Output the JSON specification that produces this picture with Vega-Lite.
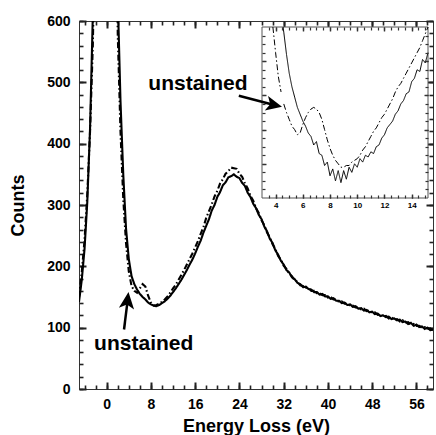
{
  "$schema": "https://vega.github.io/schema/vega-lite/v6.json",
  "width": 354,
  "height": 368,
  "autosize": "none",
  "padding": {"left": 79, "top": 21, "right": 3, "bottom": 46},
  "background": "white",
  "config": {
    "view": {"stroke": "#333", "strokeWidth": 1},
    "axis": {
      "grid": false,
      "domain": false,
      "labelFont": "Liberation Sans",
      "titleFont": "Liberation Sans",
      "labelFontWeight": "bold",
      "titleFontWeight": "bold",
      "labelColor": "black",
      "titleColor": "black",
      "labelFlush": false,
      "labelOverlap": false,
      "labelBound": false
    }
  },
  "datasets": {
    "main": [
      {"e": -5, "s": 142, "u": 150}, {"e": -4.5, "s": 178, "u": 190}, {"e": -4, "s": 228, "u": 243},
      {"e": -3.5, "s": 305, "u": 318}, {"e": -3, "s": 425, "u": 420}, {"e": -2.5, "s": 610, "u": 560},
      {"e": -2, "s": 950, "u": 800}, {"e": -1.5, "s": 1600, "u": 1400}, {"e": -1, "s": 3000, "u": 2800},
      {"e": 0, "s": 8000, "u": 8000}, {"e": 1, "s": 3000, "u": 3000}, {"e": 1.5, "s": 1300, "u": 1100},
      {"e": 2, "s": 640, "u": 580}, {"e": 2.5, "s": 470, "u": 420}, {"e": 3, "s": 350, "u": 310},
      {"e": 3.5, "s": 262, "u": 238}, {"e": 4, "s": 212, "u": 192}, {"e": 4.5, "s": 184, "u": 168},
      {"e": 5, "s": 171, "u": 160}, {"e": 5.5, "s": 162, "u": 157}, {"e": 6, "s": 155, "u": 164},
      {"e": 6.5, "s": 150, "u": 171}, {"e": 7, "s": 146, "u": 167}, {"e": 7.5, "s": 141, "u": 152},
      {"e": 8, "s": 138, "u": 141}, {"e": 8.5, "s": 136, "u": 136}, {"e": 9, "s": 135, "u": 137},
      {"e": 9.5, "s": 137, "u": 139}, {"e": 10, "s": 140, "u": 142}, {"e": 10.5, "s": 143, "u": 146},
      {"e": 11, "s": 147, "u": 151}, {"e": 11.5, "s": 152, "u": 157}, {"e": 12, "s": 158, "u": 164},
      {"e": 12.5, "s": 164, "u": 170}, {"e": 13, "s": 171, "u": 178}, {"e": 13.5, "s": 178, "u": 186},
      {"e": 14, "s": 186, "u": 194}, {"e": 14.5, "s": 194, "u": 203}, {"e": 15, "s": 203, "u": 212},
      {"e": 15.5, "s": 211, "u": 221}, {"e": 16, "s": 221, "u": 231}, {"e": 16.5, "s": 232, "u": 241},
      {"e": 17, "s": 242, "u": 253}, {"e": 17.5, "s": 255, "u": 264}, {"e": 18, "s": 266, "u": 279},
      {"e": 18.5, "s": 277, "u": 290}, {"e": 19, "s": 291, "u": 301}, {"e": 19.5, "s": 300, "u": 314},
      {"e": 20, "s": 313, "u": 323}, {"e": 20.5, "s": 321, "u": 335}, {"e": 21, "s": 332, "u": 342},
      {"e": 21.5, "s": 337, "u": 351}, {"e": 22, "s": 345, "u": 355}, {"e": 22.5, "s": 347, "u": 361},
      {"e": 23, "s": 350, "u": 360}, {"e": 23.5, "s": 346, "u": 359}, {"e": 24, "s": 344, "u": 351},
      {"e": 24.5, "s": 336, "u": 346}, {"e": 25, "s": 331, "u": 335}, {"e": 25.5, "s": 320, "u": 327},
      {"e": 26, "s": 313, "u": 315}, {"e": 26.5, "s": 302, "u": 307}, {"e": 27, "s": 295, "u": 295},
      {"e": 27.5, "s": 284, "u": 287}, {"e": 28, "s": 277, "u": 275}, {"e": 28.5, "s": 265, "u": 267},
      {"e": 29, "s": 257, "u": 255}, {"e": 29.5, "s": 245, "u": 247}, {"e": 30, "s": 238, "u": 236},
      {"e": 30.5, "s": 226, "u": 228}, {"e": 31, "s": 219, "u": 217}, {"e": 31.5, "s": 209, "u": 211},
      {"e": 32, "s": 203, "u": 201}, {"e": 32.5, "s": 194, "u": 196}, {"e": 33, "s": 190, "u": 188},
      {"e": 33.5, "s": 182, "u": 184}, {"e": 34, "s": 179, "u": 177}, {"e": 34.5, "s": 173, "u": 175},
      {"e": 35, "s": 171, "u": 169}, {"e": 35.5, "s": 166, "u": 168}, {"e": 36, "s": 167, "u": 165},
      {"e": 36.5, "s": 163, "u": 165}, {"e": 37, "s": 162, "u": 160}, {"e": 37.5, "s": 158, "u": 160},
      {"e": 38, "s": 158, "u": 156}, {"e": 38.5, "s": 154, "u": 156}, {"e": 39, "s": 155, "u": 153},
      {"e": 39.5, "s": 151, "u": 153}, {"e": 40, "s": 151, "u": 149}, {"e": 40.5, "s": 147, "u": 150},
      {"e": 41, "s": 148, "u": 146}, {"e": 41.5, "s": 144, "u": 146}, {"e": 42, "s": 144, "u": 142},
      {"e": 42.5, "s": 140, "u": 143}, {"e": 43, "s": 141, "u": 139}, {"e": 43.5, "s": 137, "u": 139},
      {"e": 44, "s": 138, "u": 136}, {"e": 44.5, "s": 134, "u": 136}, {"e": 45, "s": 135, "u": 133},
      {"e": 45.5, "s": 131, "u": 133}, {"e": 46, "s": 132, "u": 130}, {"e": 46.5, "s": 128, "u": 131},
      {"e": 47, "s": 129, "u": 127}, {"e": 47.5, "s": 125, "u": 128}, {"e": 48, "s": 126, "u": 124},
      {"e": 48.5, "s": 122, "u": 125}, {"e": 49, "s": 123, "u": 121}, {"e": 49.5, "s": 119, "u": 122},
      {"e": 50, "s": 120, "u": 118}, {"e": 50.5, "s": 117, "u": 119}, {"e": 51, "s": 118, "u": 115},
      {"e": 51.5, "s": 114, "u": 117}, {"e": 52, "s": 115, "u": 113}, {"e": 52.5, "s": 112, "u": 114},
      {"e": 53, "s": 113, "u": 110}, {"e": 53.5, "s": 109, "u": 112}, {"e": 54, "s": 110, "u": 108},
      {"e": 54.5, "s": 106, "u": 109}, {"e": 55, "s": 108, "u": 105}, {"e": 55.5, "s": 103, "u": 106},
      {"e": 56, "s": 105, "u": 103}, {"e": 56.5, "s": 101, "u": 103}, {"e": 57, "s": 102, "u": 100},
      {"e": 57.5, "s": 98, "u": 101}, {"e": 58, "s": 100, "u": 98}, {"e": 58.5, "s": 96, "u": 99},
      {"e": 59, "s": 97, "u": 95}
    ],
    "inset": [
      {"e": 3.8, "u": 221}, {"e": 4.0, "u": 205}, {"e": 4.2, "u": 191}, {"e": 4.4, "u": 182},
      {"e": 4.55, "s": 220}, {"e": 4.6, "s": 217, "u": 175}, {"e": 4.8, "s": 204, "u": 170},
      {"e": 5.0, "s": 193, "u": 166}, {"e": 5.2, "s": 185, "u": 162}, {"e": 5.4, "s": 179, "u": 160},
      {"e": 5.6, "s": 173, "u": 157}, {"e": 5.8, "s": 169, "u": 158}, {"e": 6.0, "s": 165, "u": 163},
      {"e": 6.2, "s": 162, "u": 167}, {"e": 6.4, "s": 158, "u": 170}, {"e": 6.6, "s": 156, "u": 172},
      {"e": 6.8, "s": 151, "u": 173}, {"e": 7.0, "s": 153, "u": 172}, {"e": 7.2, "s": 146, "u": 170},
      {"e": 7.4, "s": 145, "u": 166}, {"e": 7.6, "s": 139, "u": 160}, {"e": 7.8, "s": 141, "u": 154},
      {"e": 8.0, "s": 133, "u": 149}, {"e": 8.2, "s": 137, "u": 145}, {"e": 8.4, "s": 130, "u": 142},
      {"e": 8.6, "s": 136, "u": 140}, {"e": 8.8, "s": 129, "u": 138}, {"e": 9.0, "s": 136, "u": 138},
      {"e": 9.2, "s": 131, "u": 139}, {"e": 9.4, "s": 138, "u": 139}, {"e": 9.6, "s": 135, "u": 141},
      {"e": 9.8, "s": 140, "u": 142}, {"e": 10.0, "s": 138, "u": 143}, {"e": 10.2, "s": 143, "u": 145},
      {"e": 10.4, "s": 141, "u": 148}, {"e": 10.6, "s": 145, "u": 150}, {"e": 10.8, "s": 144, "u": 153},
      {"e": 11.0, "s": 147, "u": 156}, {"e": 11.2, "s": 146, "u": 159}, {"e": 11.4, "s": 150, "u": 161},
      {"e": 11.6, "s": 151, "u": 164}, {"e": 11.8, "s": 155, "u": 167}, {"e": 12.0, "s": 157, "u": 169},
      {"e": 12.2, "s": 161, "u": 172}, {"e": 12.4, "s": 163, "u": 175}, {"e": 12.6, "s": 165, "u": 178},
      {"e": 12.8, "s": 169, "u": 182}, {"e": 13.0, "s": 171, "u": 185}, {"e": 13.2, "s": 175, "u": 187},
      {"e": 13.4, "s": 177, "u": 190}, {"e": 13.6, "s": 181, "u": 193}, {"e": 13.8, "s": 182, "u": 196},
      {"e": 14.0, "s": 188, "u": 199}, {"e": 14.2, "s": 190, "u": 202}, {"e": 14.4, "s": 195, "u": 205},
      {"e": 14.6, "s": 194, "u": 208}, {"e": 14.8, "s": 201, "u": 212}, {"e": 15.0, "s": 199, "u": 216},
      {"e": 15.2, "s": 205, "u": 220}
    ],
    "box": [{"e1": 3, "e2": 15.2, "c1": 120, "c2": 220}],
    "dummyMain": [{"a": 0, "b": 0}],
    "dummyInset": [{"a": 8, "b": 150}],
    "notes": [
      {"e": 16.5, "c": 487, "t": "unstained"},
      {"e": 6.7, "c": 64, "t": "unstained"}
    ],
    "shafts": [
      {"e": 23.9, "c": 478, "e2": 30.3, "c2": 463},
      {"e": 3.14, "c": 97, "e2": 3.8, "c2": 145}
    ],
    "headUpper": [{"e": 31.7, "c": 460}],
    "headLower": [{"e": 3.95, "c": 158}]
  },
  "resolve": {
    "scale": {"x": "independent", "y": "independent"},
    "axis": {"x": "independent", "y": "independent"}
  },
  "layer": [
    {
      "data": {"name": "main"},
      "transform": [{"fold": ["s", "u"], "as": ["series", "counts"]}],
      "mark": {"type": "line", "clip": true, "color": "black", "strokeWidth": 2.1},
      "encoding": {
        "x": {"field": "e", "type": "quantitative", "scale": {"domain": [-5, 59], "nice": false, "zero": false},
          "axis": {"orient": "bottom", "values": [0, 8, 16, 24, 32, 40, 48, 56], "ticks": false, "labelPadding": 8, "labelFontSize": 14, "title": "Energy Loss (eV)", "titleFontSize": 18, "titlePadding": 6}},
        "y": {"field": "counts", "type": "quantitative", "scale": {"domain": [0, 600], "nice": false, "zero": false},
          "axis": {"orient": "left", "values": [0, 100, 200, 300, 400, 500, 600], "ticks": false, "labelPadding": 9, "labelFontSize": 14, "title": "Counts", "titleFontSize": 18, "titlePadding": 19}},
        "strokeDash": {"field": "series", "type": "nominal", "scale": {"domain": ["s", "u"], "range": [[1, 0], [6, 2.5, 1.5, 2.5]]}, "legend": null}
      }
    },
    {
      "data": {"name": "dummyMain"},
      "mark": {"type": "point", "opacity": 0},
      "encoding": {
        "x": {"field": "a", "type": "quantitative", "scale": {"domain": [-5, 59], "nice": false, "zero": false},
          "axis": {"orient": "bottom", "offset": -7, "ticks": true, "tickColor": "#222", "tickWidth": 2, "tickSize": 7, "values": [0, 8, 16, 24, 32, 40, 48, 56], "labels": false, "title": null}},
        "y": {"field": "b", "type": "quantitative", "scale": {"domain": [0, 600], "nice": false, "zero": false},
          "axis": {"orient": "left", "offset": -7, "ticks": true, "tickColor": "#222", "tickWidth": 2, "tickSize": 7, "values": [0, 100, 200, 300, 400, 500, 600], "labels": false, "title": null}}
      }
    },
    {
      "data": {"name": "dummyMain"},
      "mark": {"type": "point", "opacity": 0},
      "encoding": {
        "x": {"field": "a", "type": "quantitative", "scale": {"domain": [-5, 59], "nice": false, "zero": false},
          "axis": {"orient": "bottom", "offset": -4, "ticks": true, "tickColor": "#222", "tickWidth": 1.6, "tickSize": 4, "values": [-4, -2, 0, 2, 4, 6, 8, 10, 12, 14, 16, 18, 20, 22, 24, 26, 28, 30, 32, 34, 36, 38, 40, 42, 44, 46, 48, 50, 52, 54, 56, 58], "labels": false, "title": null}},
        "y": {"field": "b", "type": "quantitative", "scale": {"domain": [0, 600], "nice": false, "zero": false},
          "axis": {"orient": "left", "offset": -4, "ticks": true, "tickColor": "#222", "tickWidth": 1.6, "tickSize": 4, "values": [0, 20, 40, 60, 80, 100, 120, 140, 160, 180, 200, 220, 240, 260, 280, 300, 320, 340, 360, 380, 400, 420, 440, 460, 480, 500, 520, 540, 560, 580, 600], "labels": false, "title": null}}
      }
    },
    {
      "data": {"name": "dummyMain"},
      "mark": {"type": "point", "opacity": 0},
      "encoding": {
        "x": {"field": "a", "type": "quantitative", "scale": {"domain": [-5, 59], "nice": false, "zero": false},
          "axis": {"orient": "top", "offset": -7, "ticks": true, "tickColor": "#222", "tickWidth": 2, "tickSize": 7, "values": [0, 8, 16, 24, 32, 40, 48, 56], "labels": false, "title": null}},
        "y": {"field": "b", "type": "quantitative", "scale": {"domain": [0, 600], "nice": false, "zero": false},
          "axis": {"orient": "right", "offset": -7, "ticks": true, "tickColor": "#222", "tickWidth": 2, "tickSize": 7, "values": [0, 100, 200, 300, 400, 500, 600], "labels": false, "title": null}}
      }
    },
    {
      "data": {"name": "dummyMain"},
      "mark": {"type": "point", "opacity": 0},
      "encoding": {
        "x": {"field": "a", "type": "quantitative", "scale": {"domain": [-5, 59], "nice": false, "zero": false},
          "axis": {"orient": "top", "offset": -4, "ticks": true, "tickColor": "#222", "tickWidth": 1.6, "tickSize": 4, "values": [-4, -2, 0, 2, 4, 6, 8, 10, 12, 14, 16, 18, 20, 22, 24, 26, 28, 30, 32, 34, 36, 38, 40, 42, 44, 46, 48, 50, 52, 54, 56, 58], "labels": false, "title": null}},
        "y": {"field": "b", "type": "quantitative", "scale": {"domain": [0, 600], "nice": false, "zero": false},
          "axis": {"orient": "right", "offset": -4, "ticks": true, "tickColor": "#222", "tickWidth": 1.6, "tickSize": 4, "values": [0, 20, 40, 60, 80, 100, 120, 140, 160, 180, 200, 220, 240, 260, 280, 300, 320, 340, 360, 380, 400, 420, 440, 460, 480, 500, 520, 540, 560, 580, 600], "labels": false, "title": null}}
      }
    },
    {
      "data": {"name": "box"},
      "mark": {"type": "rect", "fill": "white", "stroke": "#555", "strokeWidth": 1},
      "encoding": {
        "x": {"field": "e1", "type": "quantitative", "scale": {"domain": [3, 15.2], "nice": false, "zero": false, "range": [183, 349]},
          "axis": {"orient": "bottom", "offset": -191, "values": [4, 6, 8, 10, 12, 14], "ticks": false, "labelPadding": 3, "labelFontSize": 8, "title": null, "zindex": 1}},
        "x2": {"field": "e2"},
        "y": {"field": "c1", "type": "quantitative", "scale": {"domain": [120, 220], "nice": false, "zero": false, "range": [177, 6]}, "axis": null},
        "y2": {"field": "c2"}
      }
    },
    {
      "data": {"name": "dummyInset"},
      "mark": {"type": "point", "opacity": 0},
      "encoding": {
        "x": {"field": "a", "type": "quantitative", "scale": {"domain": [3, 15.2], "nice": false, "zero": false, "range": [183, 349]},
          "axis": {"orient": "bottom", "offset": -195, "ticks": true, "tickColor": "#333", "tickWidth": 1.4, "tickSize": 4, "values": [4, 6, 8, 10, 12, 14], "labels": false, "title": null, "zindex": 1}},
        "y": {"field": "b", "type": "quantitative", "scale": {"domain": [120, 220], "nice": false, "zero": false, "range": [177, 6]},
          "axis": {"orient": "left", "offset": -187, "ticks": true, "tickColor": "#333", "tickWidth": 1.4, "tickSize": 4, "values": [140, 160, 180, 200], "labels": false, "title": null, "zindex": 1}}
      }
    },
    {
      "data": {"name": "dummyInset"},
      "mark": {"type": "point", "opacity": 0},
      "encoding": {
        "x": {"field": "a", "type": "quantitative", "scale": {"domain": [3, 15.2], "nice": false, "zero": false, "range": [183, 349]},
          "axis": {"orient": "bottom", "offset": -194, "ticks": true, "tickColor": "#333", "tickWidth": 1.2, "tickSize": 3, "values": [3.5, 4, 4.5, 5, 5.5, 6, 6.5, 7, 7.5, 8, 8.5, 9, 9.5, 10, 10.5, 11, 11.5, 12, 12.5, 13, 13.5, 14, 14.5, 15], "labels": false, "title": null, "zindex": 1}},
        "y": {"field": "b", "type": "quantitative", "scale": {"domain": [120, 220], "nice": false, "zero": false, "range": [177, 6]},
          "axis": {"orient": "left", "offset": -186, "ticks": true, "tickColor": "#333", "tickWidth": 1.2, "tickSize": 3, "values": [125, 130, 135, 140, 145, 150, 155, 160, 165, 170, 175, 180, 185, 190, 195, 200, 205, 210, 215], "labels": false, "title": null, "zindex": 1}}
      }
    },
    {
      "data": {"name": "dummyInset"},
      "mark": {"type": "point", "opacity": 0},
      "encoding": {
        "x": {"field": "a", "type": "quantitative", "scale": {"domain": [3, 15.2], "nice": false, "zero": false, "range": [183, 349]},
          "axis": {"orient": "top", "offset": -10, "ticks": true, "tickColor": "#333", "tickWidth": 1.4, "tickSize": 4, "values": [4, 6, 8, 10, 12, 14], "labels": false, "title": null, "zindex": 1}},
        "y": {"field": "b", "type": "quantitative", "scale": {"domain": [120, 220], "nice": false, "zero": false, "range": [177, 6]},
          "axis": {"orient": "right", "offset": -9, "ticks": true, "tickColor": "#333", "tickWidth": 1.4, "tickSize": 4, "values": [140, 160, 180, 200], "labels": false, "title": null, "zindex": 1}}
      }
    },
    {
      "data": {"name": "dummyInset"},
      "mark": {"type": "point", "opacity": 0},
      "encoding": {
        "x": {"field": "a", "type": "quantitative", "scale": {"domain": [3, 15.2], "nice": false, "zero": false, "range": [183, 349]},
          "axis": {"orient": "top", "offset": -9, "ticks": true, "tickColor": "#333", "tickWidth": 1.2, "tickSize": 3, "values": [3.5, 4, 4.5, 5, 5.5, 6, 6.5, 7, 7.5, 8, 8.5, 9, 9.5, 10, 10.5, 11, 11.5, 12, 12.5, 13, 13.5, 14, 14.5, 15], "labels": false, "title": null, "zindex": 1}},
        "y": {"field": "b", "type": "quantitative", "scale": {"domain": [120, 220], "nice": false, "zero": false, "range": [177, 6]},
          "axis": {"orient": "right", "offset": -8, "ticks": true, "tickColor": "#333", "tickWidth": 1.2, "tickSize": 3, "values": [125, 130, 135, 140, 145, 150, 155, 160, 165, 170, 175, 180, 185, 190, 195, 200, 205, 210, 215], "labels": false, "title": null, "zindex": 1}}
      }
    },
    {
      "data": {"name": "inset"},
      "transform": [{"fold": ["s", "u"], "as": ["series", "counts"]}],
      "mark": {"type": "line", "color": "black", "strokeWidth": 1},
      "encoding": {
        "x": {"field": "e", "type": "quantitative", "scale": {"domain": [3, 15.2], "nice": false, "zero": false, "range": [183, 349]}, "axis": null},
        "y": {"field": "counts", "type": "quantitative", "scale": {"domain": [120, 220], "nice": false, "zero": false, "range": [177, 6], "clamp": true}, "axis": null},
        "strokeDash": {"field": "series", "type": "nominal", "scale": {"domain": ["s", "u"], "range": [[1, 0], [3, 1.5, 1, 1.5]]}, "legend": null}
      }
    },
    {
      "data": {"name": "notes"},
      "mark": {"type": "text", "font": "Liberation Sans", "fontWeight": "bold", "fontSize": 21, "align": "center", "baseline": "alphabetic", "color": "black"},
      "encoding": {
        "x": {"field": "e", "type": "quantitative", "scale": {"domain": [-5, 59], "nice": false, "zero": false}, "axis": null},
        "y": {"field": "c", "type": "quantitative", "scale": {"domain": [0, 600], "nice": false, "zero": false}, "axis": null},
        "text": {"field": "t"}
      }
    },
    {
      "data": {"name": "shafts"},
      "mark": {"type": "rule", "color": "black", "strokeWidth": 2.5},
      "encoding": {
        "x": {"field": "e", "type": "quantitative", "scale": {"domain": [-5, 59], "nice": false, "zero": false}, "axis": null},
        "y": {"field": "c", "type": "quantitative", "scale": {"domain": [0, 600], "nice": false, "zero": false}, "axis": null},
        "x2": {"field": "e2"},
        "y2": {"field": "c2"}
      }
    },
    {
      "data": {"name": "headUpper"},
      "mark": {"type": "point", "shape": "M0,0L0.85,1.85L0,1.4L-0.85,1.85Z", "size": 300, "angle": 103, "filled": true, "color": "black", "opacity": 1},
      "encoding": {
        "x": {"field": "e", "type": "quantitative", "scale": {"domain": [-5, 59], "nice": false, "zero": false}, "axis": null},
        "y": {"field": "c", "type": "quantitative", "scale": {"domain": [0, 600], "nice": false, "zero": false}, "axis": null}
      }
    },
    {
      "data": {"name": "headLower"},
      "mark": {"type": "point", "shape": "M0,0L0.85,1.85L0,1.4L-0.85,1.85Z", "size": 324, "angle": 7, "filled": true, "color": "black", "opacity": 1},
      "encoding": {
        "x": {"field": "e", "type": "quantitative", "scale": {"domain": [-5, 59], "nice": false, "zero": false}, "axis": null},
        "y": {"field": "c", "type": "quantitative", "scale": {"domain": [0, 600], "nice": false, "zero": false}, "axis": null}
      }
    }
  ]
}
